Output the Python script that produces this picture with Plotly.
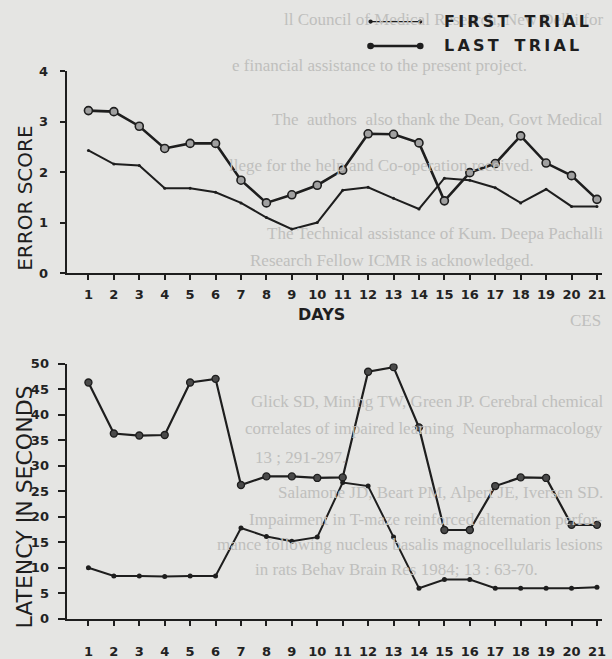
import plotly.graph_objects as go

W, H = 612, 659

# ---------------- data ----------------
days = list(range(1, 22))
day_labels = [str(d) for d in days]

error_first = [3.22, 3.20, 2.91, 2.47, 2.57, 2.57, 1.84, 1.39, 1.55, 1.74, 2.04,
               2.76, 2.75, 2.58, 1.43, 1.99, 2.17, 2.72, 2.18, 1.93, 1.46]
error_last = [2.43, 2.16, 2.13, 1.68, 1.68, 1.60, 1.39, 1.10, 0.87, 1.00, 1.64,
              1.70, 1.48, 1.27, 1.88, 1.84, 1.69, 1.39, 1.66, 1.32, 1.32]

latency_first = [46.3, 36.3, 35.9, 36.0, 46.3, 47.0, 26.2, 27.9, 27.9, 27.6, 27.7,
                 48.4, 49.3, 37.5, 17.4, 17.4, 26.0, 27.7, 27.6, 18.4, 18.4]
latency_last = [10.0, 8.4, 8.4, 8.3, 8.4, 8.4, 17.8, 16.1, 15.2, 16.0, 26.7,
                26.0, 16.0, 6.0, 7.7, 7.7, 6.0, 6.0, 6.0, 6.0, 6.2]

error_ticks = [0, 1, 2, 3, 4]
latency_ticks = [0, 5, 10, 15, 20, 25, 30, 35, 40, 45, 50]

series_names = ["FIRST TRIAL", "LAST TRIAL"]
ytitle_top = "ERROR SCORE"
ytitle_bottom = "LATENCY IN SECONDS"
xtitle_top = "DAYS"

# faint show-through text of the scanned journal page
bleed_right = [
    ("ll Council of Medical Research, New Delhi for", 13),
    ("The  authors  also thank the Dean, Govt Medical", 115),
    ("The Technical assistance of Kum. Deepa Pachalli", 233),
    ("Glick SD, Mining TW, Green JP. Cerebral chemical", 405),
    ("correlates of impaired learning  Neuropharmacology", 433),
    ("Salamone JD, Beart PM, Alpert JE, Iversen SD.", 498),
    ("Impairment in T-maze reinforced alternation perfor-", 526),
    ("mance following nucleus basalis magnocellularis lesions", 552),
]
bleed_left = [
    ("e financial assistance to the present project.", 60, 232),
    ("llege for the help and Co-operation received.", 163, 228),
    ("Research Fellow ICMR is acknowledged.", 260, 250),
    ("13 ; 291-297.", 462, 255),
    ("in rats Behav Brain Res 1984; 13 : 63-70.", 577, 255),
    ("CES", 322, 572),
]


def px(x):
    return x / W


def py(y):
    return 1 - y / H


INK = "#1e1e1e"
BLEED = "#bfbfbd"
fig = go.Figure()

# top panel
fig.add_trace(go.Scatter(
    x=days, y=error_first, mode="lines+markers", name=series_names[0],
    line=dict(color=INK, width=2.6),
    marker=dict(size=8, color="#a0a0a0", line=dict(color=INK, width=1.6)),
    xaxis="x", yaxis="y", showlegend=False))
fig.add_trace(go.Scatter(
    x=days, y=error_last, mode="lines+markers", name=series_names[1],
    line=dict(color=INK, width=2.0),
    marker=dict(size=3, color=INK),
    xaxis="x", yaxis="y", showlegend=False))

# bottom panel
fig.add_trace(go.Scatter(
    x=days, y=latency_first, mode="lines+markers", name=series_names[0],
    line=dict(color=INK, width=2.2),
    marker=dict(size=7, color="#4a4a4a", line=dict(color=INK, width=1.4)),
    xaxis="x2", yaxis="y2", showlegend=False))
fig.add_trace(go.Scatter(
    x=days, y=latency_last, mode="lines+markers", name=series_names[1],
    line=dict(color=INK, width=2.0),
    marker=dict(size=5, color=INK),
    xaxis="x2", yaxis="y2", showlegend=False))

tickfont = dict(family="DejaVu Sans", size=13, color="#222", weight="bold")
xdomain = [px(67), px(606)]
xrange = [0.14, 21.2]

common_x = dict(domain=xdomain, range=xrange, tickmode="array", tickvals=days,
                ticktext=day_labels, ticks="outside", ticklen=5, tickwidth=1.6,
                tickcolor=INK, showline=True, linecolor=INK, linewidth=2,
                showgrid=False, zeroline=False, tickfont=tickfont,
                fixedrange=True)
common_y = dict(ticks="outside", tickwidth=1.6, tickcolor=INK,
                showline=True, linecolor=INK, linewidth=2, showgrid=False,
                zeroline=False, tickfont=tickfont, fixedrange=True)

annotations = []
shapes = []

# bleed-through text
for txt, yy in bleed_right:
    annotations.append(dict(text=txt, x=px(609), y=py(yy), xref="paper", yref="paper",
                            xanchor="right", yanchor="middle", showarrow=False,
                            font=dict(family="Liberation Serif", size=17, color=BLEED)))
for txt, yy, xx in bleed_left:
    annotations.append(dict(text=txt, x=px(xx), y=py(yy), xref="paper", yref="paper",
                            xanchor="left", yanchor="middle", showarrow=False,
                            font=dict(family="Liberation Serif", size=17, color=BLEED)))

# axis titles
annotations.append(dict(text=ytitle_top, x=px(25), y=py(196), xref="paper", yref="paper",
                        textangle=-90, showarrow=False, xanchor="center", yanchor="middle",
                        font=dict(family="DejaVu Sans", size=20, color=INK)))
annotations.append(dict(text=ytitle_bottom, x=px(25), y=py(513), xref="paper", yref="paper",
                        textangle=-90, showarrow=False, xanchor="center", yanchor="middle",
                        font=dict(family="DejaVu Sans", size=22, color=INK)))
annotations.append(dict(text=xtitle_top, x=px(324), y=py(316), xref="paper", yref="paper",
                        showarrow=False, xanchor="center", yanchor="middle",
                        font=dict(family="DejaVu Sans", size=16, color=INK, weight="bold")))

# legend (drawn manually: line with dots at both ends, spaced capitals)
def spaced(s):
    return "\u2009".join(list(s)).replace("\u2009 \u2009", "\u2002\u2002")

leg = [(series_names[0], 15, 1.2, 2.2), (series_names[1], 40, 2.4, 3.4)]
for name, yy, lw, r in leg:
    shapes.append(dict(type="line", xref="paper", yref="paper",
                       x0=px(373), x1=px(423), y0=py(yy), y1=py(yy),
                       line=dict(color=INK, width=lw)))
    for cx in (373, 423):
        shapes.append(dict(type="circle", xref="paper", yref="paper",
                           x0=px(cx - r), x1=px(cx + r), y0=py(yy + r), y1=py(yy - r),
                           fillcolor=INK, line=dict(color=INK, width=0)))
    annotations.append(dict(text=spaced(name), x=px(445), y=py(yy), xref="paper", yref="paper",
                            xanchor="left", yanchor="middle", showarrow=False,
                            font=dict(family="DejaVu Sans", size=16, color=INK, weight="bold")))

fig.update_layout(
    width=W, height=H,
    margin=dict(l=0, r=0, t=0, b=0),
    paper_bgcolor="#e5e5e3",
    plot_bgcolor="rgba(0,0,0,0)",
    xaxis=dict(anchor="y", ticklabelstandoff=3, **common_x),
    yaxis=dict(domain=[py(273), py(66)], range=[0, 4], tickmode="array",
               tickvals=error_ticks, ticktext=[str(t) for t in error_ticks],
               anchor="x", ticklen=5, ticklabelstandoff=9, **common_y),
    xaxis2=dict(anchor="y2", ticklabelstandoff=15, **common_x),
    yaxis2=dict(domain=[py(628), py(366)], range=[0, 50], tickmode="array",
                tickvals=latency_ticks, ticktext=[str(t) for t in latency_ticks],
                anchor="x2", ticklen=7, ticklabelstandoff=6, **common_y),
    annotations=annotations,
    shapes=shapes,
    font=dict(family="DejaVu Sans"),
)

fig.write_html(
    "out.html",
    config={"displayModeBar": False},
    post_script="document.body.style.margin='0';document.body.style.overflow='hidden';",
)
